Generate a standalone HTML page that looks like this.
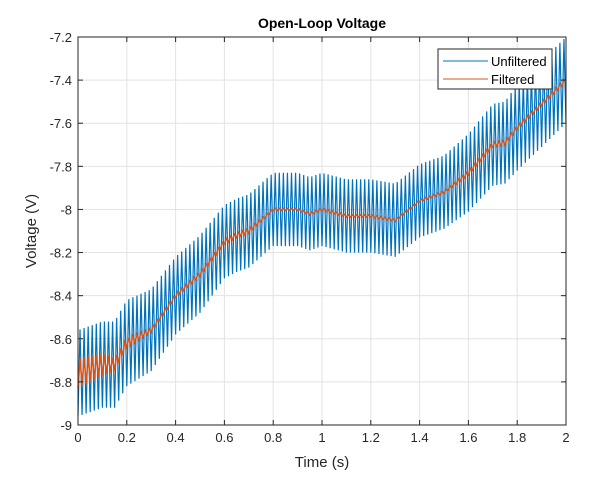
<!DOCTYPE html>
<html><head><meta charset="utf-8"><style>
body{margin:0;background:#fff;}
svg text{font-family:"Liberation Sans",Arial,sans-serif;}
</style></head><body>
<svg id="chart" width="607" height="478" viewBox="0 0 607 478" xmlns="http://www.w3.org/2000/svg">
<rect width="607" height="478" fill="#fff"/>
<g id="grid"></g>
<g id="series"></g>
<g id="axes"></g>
<text x="322" y="28" text-anchor="middle" font-size="14" font-weight="bold" fill="#000">Open-Loop Voltage</text>
<text x="322" y="467" text-anchor="middle" font-size="15" fill="#262626">Time (s)</text>
<text transform="translate(36,231) rotate(-90)" text-anchor="middle" font-size="15" fill="#262626">Voltage (V)</text>
<g>
<rect x="438" y="49" width="114" height="40" fill="#fff" stroke="#262626" stroke-width="1"/>
<line x1="443" y1="61" x2="488" y2="61" stroke="#0072BD" stroke-width="1"/>
<text x="491" y="66" font-size="13" fill="#000">Unfiltered</text>
<line x1="443" y1="79" x2="488" y2="79" stroke="#D95319" stroke-width="1"/>
<text x="491" y="84" font-size="13" fill="#000">Filtered</text>
</g>
</svg>
<script>
const xTicks=[0,0.2,0.4,0.6,0.8,1,1.2,1.4,1.6,1.8,2];
const xTickLabels=["0","0.2","0.4","0.6","0.8","1","1.2","1.4","1.6","1.8","2"];
const yTicks=[-9,-8.8,-8.6,-8.4,-8.2,-8,-7.8,-7.6,-7.4,-7.2];
const yTickLabels=["-9","-8.8","-8.6","-8.4","-8.2","-8","-7.8","-7.6","-7.4","-7.2"];
const knotTimes=[0,0.1,0.15,0.2,0.3,0.4,0.5,0.6,0.65,0.7,0.8,0.9,0.95,1.0,1.1,1.2,1.3,1.4,1.5,1.6,1.7,1.75,1.8,1.9,2.0];
const filteredValues=[-8.76,-8.72,-8.72,-8.62,-8.56,-8.4,-8.3,-8.15,-8.12,-8.1,-8.0,-8.0,-8.02,-8.0,-8.03,-8.03,-8.05,-7.96,-7.92,-7.83,-7.7,-7.69,-7.62,-7.51,-7.4];
const unfilteredAmplitude=[0.2,0.2,0.2,0.2,0.19,0.18,0.18,0.17,0.17,0.17,0.17,0.17,0.17,0.17,0.17,0.17,0.17,0.17,0.17,0.18,0.19,0.19,0.2,0.2,0.2];
const filteredRipple=[0.07,0.05,0.03,0.02,0.01,0.01,0.01,0.01,0.01,0.01,0.005,0.005,0.005,0.005,0.005,0.005,0.005,0.005,0.005,0.01,0.01,0.01,0.01,0.01,0.01];
const cycleCount=120;

const L=78,R=566,T=37,B=425;
const xS=v=>L+(v-0)/(2-0)*(R-L);
const yS=v=>B-(v-(-9))/((-7.2)-(-9))*(B-T);
const NS="http://www.w3.org/2000/svg";
function interp(arr,t){for(let i=0;i<knotTimes.length-1;i++){if(t<=knotTimes[i+1]){const f=(t-knotTimes[i])/(knotTimes[i+1]-knotTimes[i]);return arr[i]+f*(arr[i+1]-arr[i]);}}return arr[arr.length-1];}
function mk(tag,attrs,parent){const e=document.createElementNS(NS,tag);for(const k in attrs)e.setAttribute(k,attrs[k]);parent.appendChild(e);return e;}
const grid=document.getElementById('grid'),axes=document.getElementById('axes'),series=document.getElementById('series');
xTicks.forEach((v,i)=>{
 const gl=mk('line',{x1:xS(v),x2:xS(v),y1:T,y2:B,stroke:'#e3e3e3','stroke-width':1},grid);
 
 
 mk('line',{x1:xS(v),x2:xS(v),y1:B,y2:B-5,stroke:'#262626'},axes);
 mk('line',{x1:xS(v),x2:xS(v),y1:T,y2:T+5,stroke:'#262626'},axes);
 const t=mk('text',{x:xS(v),y:B+17,'text-anchor':'middle','font-size':13,fill:'#262626'},axes);
 t.textContent=xTickLabels[i];
 
 
});
yTicks.forEach((v,i)=>{
 const gl=mk('line',{x1:L,x2:R,y1:yS(v),y2:yS(v),stroke:'#e3e3e3','stroke-width':1},grid);
 
 
 mk('line',{x1:L,x2:L+5,y1:yS(v),y2:yS(v),stroke:'#262626'},axes);
 mk('line',{x1:R,x2:R-5,y1:yS(v),y2:yS(v),stroke:'#262626'},axes);
 const t=mk('text',{x:L-6,y:yS(v)+5,'text-anchor':'end','font-size':13,fill:'#262626'},axes);
 t.textContent=yTickLabels[i];
 
 
});
const frame=mk('rect',{x:L,y:T,width:R-L,height:B-T,fill:'none',stroke:'#262626','stroke-width':1},axes);


let pts=[];
for(let k=0;k<=cycleCount*2;k++){const t=k/(cycleCount*2)*2;const c=interp(filteredValues,t),a=interp(unfilteredAmplitude,t);const v=c+(k%2?a:-a);pts.push(xS(t).toFixed(2)+','+yS(v).toFixed(2));}
const u=mk('polyline',{points:pts.join(' '),fill:'none',stroke:'#0072BD','stroke-width':1.2},series);


pts=[];
for(let k=0;k<=cycleCount*2;k++){const t=k/(cycleCount*2)*2;const c=interp(filteredValues,t),a=interp(filteredRipple,t);const v=c+(k%2?a:-a);pts.push(xS(t).toFixed(2)+','+yS(v).toFixed(2));}
const f=mk('polyline',{points:pts.join(' '),fill:'none',stroke:'#D95319','stroke-width':1.5},series);


</script>
</body></html>
